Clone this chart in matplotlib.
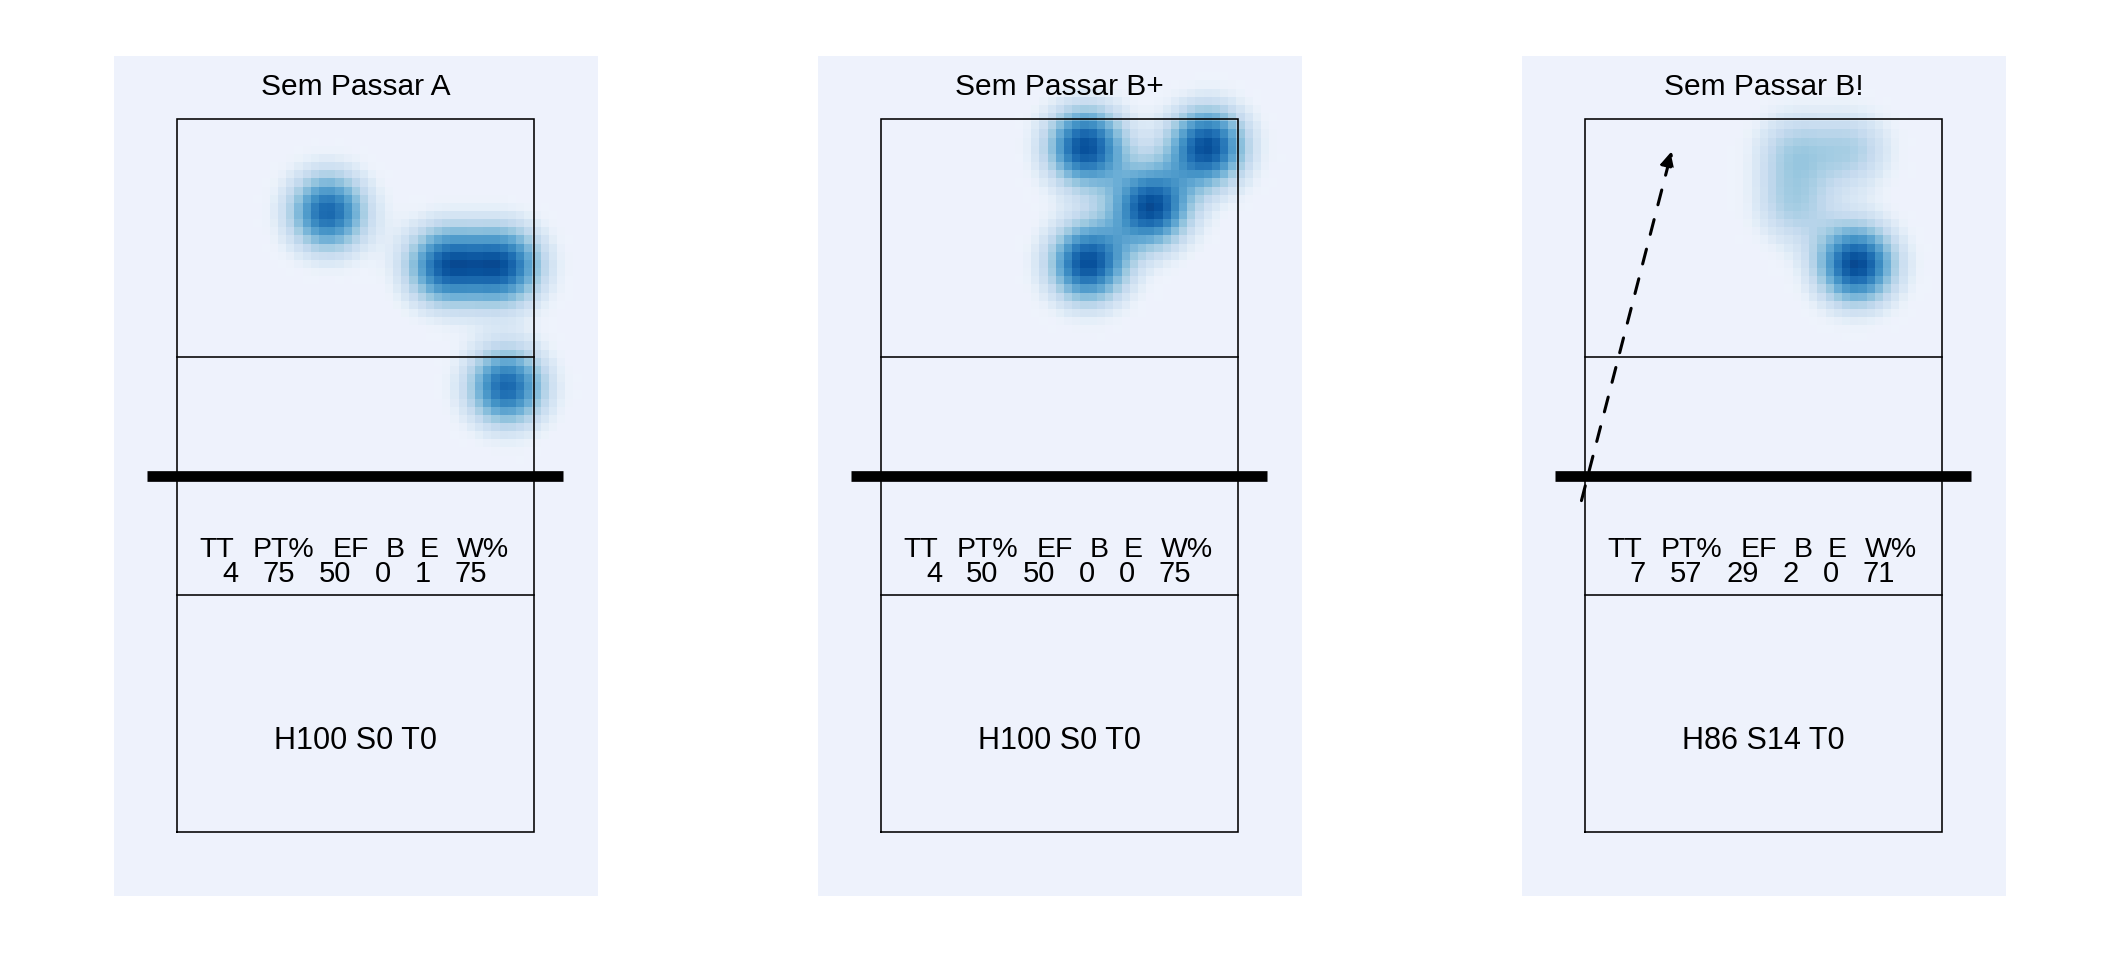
import numpy as np
import matplotlib
matplotlib.use("Agg")
import matplotlib.pyplot as plt

# ---------------- data ----------------
titles = ["Sem Passar A", "Sem Passar B+", "Sem Passar B!"]
stat_labels = ["TT", "PT%", "EF", "B", "E", "W%"]
stat_values = [
    [4, 75, 50, 0, 1, 75],
    [4, 50, 50, 0, 0, 75],
    [7, 57, 29, 2, 0, 71],
]
bottom_labels = ["H100 S0 T0", "H100 S0 T0", "H86 S14 T0"]

# attack end locations (court coordinates) and weights
pts_x = [[1.77, 2.75, 3.25, 3.27],
         [2.22, 3.24, 2.77, 2.24],
         [2.78, 2.25, 2.75, 2.25]]
pts_y = [[5.72, 5.27, 5.27, 4.25],
         [6.27, 6.27, 5.76, 5.29],
         [5.28, 6.24, 6.24, 5.77]]
pts_w = [[1, 1, 1, 1],
         [1, 1, 1, 1],
         [3, 1, 1, 1]]

# trajectory arrow (panel 3)
arrow_panel = 2
arrow_x = [0.47, 1.23]
arrow_y = [3.29, 6.23]

# ---------------- layout ----------------
W, H, DPI = 2112, 960, 100
BG = "#EEF2FC"
x0, x1 = -0.030, 4.038
y0, y1 = -0.033, 7.032
panel_left_px = [114, 818, 1522]
panel_w_px = 483.7
panel_top_px, panel_bot_px = 55.7, 895.7

header_x = [0.831, 1.399, 1.965, 2.333, 2.624, 3.071]
value_x = [0.946, 1.352, 1.829, 2.228, 2.567, 2.970]

sigma = 0.235
cell = 0.0687

plt.rcParams["font.family"] = ["Liberation Sans", "DejaVu Sans"]

fig = plt.figure(figsize=(W / DPI, H / DPI), dpi=DPI)
fig.patch.set_facecolor("white")

nx = int(round((x1 - x0) / cell))
ny = int(round((y1 - y0) / cell))
gx = x0 + (np.arange(nx) + 0.5) * (x1 - x0) / nx
gy = y0 + (np.arange(ny) + 0.5) * (y1 - y0) / ny
GX, GY = np.meshgrid(gx, gy)
cmap = plt.get_cmap("Blues")

for i in range(3):
    ax = fig.add_axes([panel_left_px[i] / W,
                       (H - panel_bot_px) / H,
                       panel_w_px / W,
                       (panel_bot_px - panel_top_px) / H])
    ax.set_facecolor(BG)
    ax.set_xlim(x0, x1)
    ax.set_ylim(y0, y1)
    ax.set_xticks([])
    ax.set_yticks([])
    for s in ax.spines.values():
        s.set_visible(False)

    # density raster
    dens = np.zeros_like(GX)
    for px, py, pw in zip(pts_x[i], pts_y[i], pts_w[i]):
        dens += pw * np.exp(-((GX - px) ** 2 + (GY - py) ** 2) / (2 * sigma ** 2))
    d = dens / dens.max()
    rgba = cmap(0.9 * d)
    rgba[..., 3] = np.clip(d / 0.15, 0, 1)
    ax.imshow(rgba, extent=(x0, x1, y0, y1), origin="lower",
              interpolation="nearest", aspect="auto", zorder=1)

    # court
    lw = 1.15
    ax.plot([0.5, 3.5, 3.5, 0.5, 0.5], [0.5, 0.5, 6.5, 6.5, 0.5],
            color="black", lw=lw, zorder=3, solid_joinstyle="miter")
    ax.plot([0.5, 3.5], [2.5, 2.5], color="black", lw=lw, zorder=3)
    ax.plot([0.5, 3.5], [4.5, 4.5], color="black", lw=lw, zorder=3)
    ax.plot([0.25, 3.75], [3.5, 3.5], color="black", lw=7.7,
            solid_capstyle="butt", zorder=4)

    # title
    ax.text(2.0, 6.702, titles[i], ha="center", va="baseline",
            fontsize=21.5, color="black", zorder=5)

    # stats
    for lab, hx in zip(stat_labels, header_x):
        ax.text(hx, 2.816, lab, ha="center", va="baseline",
                fontsize=20.5, color="black", zorder=5)
    for val, vx in zip(stat_values[i], value_x):
        ax.text(vx, 2.602, str(val), ha="center", va="baseline",
                fontsize=21, color="black", zorder=5)

    # bottom label
    ax.text(2.0, 1.199, bottom_labels[i], ha="center", va="baseline",
            fontsize=22, color="black", zorder=5)

    if i == arrow_panel:
        ax.annotate("", xy=(arrow_x[1], arrow_y[1]),
                    xytext=(arrow_x[0], arrow_y[0]),
                    arrowprops=dict(arrowstyle="-|>", color="black",
                                    lw=2.2, linestyle=(0, (5, 5)),
                                    mutation_scale=22,
                                    shrinkA=0, shrinkB=0),
                    zorder=6)

fig.savefig("out.png", dpi=DPI, facecolor="white")
